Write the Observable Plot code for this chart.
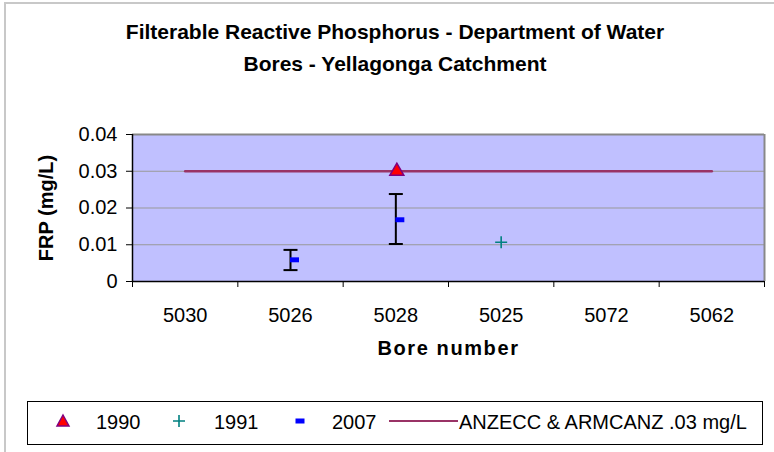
<!DOCTYPE html>
<html>
<head>
<meta charset="utf-8">
<script src="https://cdn.jsdelivr.net/npm/d3@7"></script>
<script src="https://cdn.jsdelivr.net/npm/@observablehq/plot@0.6"></script>
<style>
  body { margin: 0; background: #fff; }
  #root { position: relative; width: 774px; height: 452px; overflow: hidden; background: #fff;
          font-family: "Liberation Sans", Arial, sans-serif; color: #000; }
  #frame { position: absolute; left: 4px; top: 2px; width: 820px; height: 520px; border: 2px solid #c8c8c8; box-sizing: border-box; }
  #title { position: absolute; left: 4px; top: 16px; width: 782px; text-align: center; font-weight: bold; font-size: 21px; line-height: 32px; }
  #chart { position: absolute; left: 0; top: 0; }
  #legend { position: absolute; left: 27px; top: 401px; width: 736px; height: 44px; border: 1px solid #000; box-sizing: border-box; background: #fff; }
  #legend span { position: absolute; top: 10px; font-size: 20px; line-height: 20px; white-space: nowrap; }
  #legend svg { position: absolute; }
</style>
</head>
<body>
<div id="root">
  <div id="frame"></div>
  <div id="title">Filterable Reactive Phosphorus - Department of Water<br>Bores - Yellagonga Catchment</div>
  <div id="chart"></div>
  <div id="legend"></div>
</div>
<script>
// ---- data ----
const categories = ["5030", "5026", "5028", "5025", "5072", "5062"];
const yTicks = [0, 0.01, 0.02, 0.03, 0.04];

const bores1990 = ["5028"];
const values1990 = [0.030];

const bores1991 = ["5025"];
const values1991 = [0.0107];

const bores2007 = ["5026", "5028"];
const values2007 = [0.0059, 0.0168];
const errLow2007 = [0.0031, 0.0102];
const errHigh2007 = [0.0086, 0.0238];

const guidelineBores = categories;
const guidelineValue = 0.03;

const seriesNames = ["1990", "1991", "2007", "ANZECC & ARMCANZ .03 mg/L"];

// ---- helpers ----
const idx = b => categories.indexOf(b) + 0.5;
const d1990 = bores1990.map((b, i) => ({x: idx(b), y: values1990[i]}));
const d1991 = bores1991.map((b, i) => ({x: idx(b), y: values1991[i]}));
const d2007 = bores2007.map((b, i) => ({x: idx(b), y: values2007[i], lo: errLow2007[i], hi: errHigh2007[i]}));
const dGuide = guidelineBores.map(b => ({x: idx(b), y: guidelineValue}));
const dCaps = d2007.flatMap(d => [{x: d.x, y: d.lo}, {x: d.x, y: d.hi}]);

const hLine = {draw(ctx, size) { const r = Math.sqrt(size / Math.PI); ctx.moveTo(-r, 0); ctx.lineTo(r, 0); }};
const plus = {draw(ctx, size) { const r = Math.sqrt(size / Math.PI); ctx.moveTo(-r, 0); ctx.lineTo(r, 0); ctx.moveTo(0, -r); ctx.lineTo(0, r); }};
const dashRect = {draw(ctx, size) { const r = Math.sqrt(size / Math.PI); ctx.rect(-r, -r * 0.55, 2 * r, r * 1.1); ctx.closePath(); }};

const xTicks = d3.range(0, categories.length + 1);
const labelTicks = categories.map((c, i) => i + 0.5);

const plot = Plot.plot({
  width: 774,
  height: 390,
  marginLeft: 132,
  marginRight: 10,
  marginTop: 134,
  marginBottom: 109,
  style: {fontFamily: "'Liberation Sans', Arial, sans-serif", fontSize: "20px", color: "#000", background: "transparent", overflow: "visible"},
  x: {type: "linear", domain: [0, categories.length]},
  y: {domain: [0, 0.04]},
  marks: [
    Plot.frame({fill: "#c0c0ff", stroke: null}),
    Plot.gridY({ticks: [0.01, 0.02, 0.03], stroke: "#999", strokeOpacity: 1, strokeWidth: 1}),
    Plot.ruleY([0.04], {stroke: "#888", strokeWidth: 2}),
    Plot.ruleX([categories.length], {stroke: "#888", strokeWidth: 2}),
    Plot.ruleY([0], {stroke: "#000", strokeWidth: 1.5}),
    Plot.ruleX([0], {stroke: "#000", strokeWidth: 1.5}),
    Plot.axisY({ticks: yTicks, tickSize: 6, tickPadding: 9, tickFormat: d => d === 0 ? "0" : d.toFixed(2), label: null, fontSize: 20, stroke: "#000"}),
    Plot.axisX({ticks: xTicks, tickSize: 6, tickFormat: () => "", label: null, stroke: "#000"}),
    Plot.axisX({ticks: labelTicks, tickSize: 0, tickPadding: 26, tickFormat: d => categories[Math.round(d - 0.5)], label: null, fontSize: 20}),
    Plot.text(["FRP (mg/L)"], {frameAnchor: "left", textAnchor: "middle", rotate: -90, dx: -86, text: d => d, fontWeight: "bold", fontSize: 20}),
    Plot.text(["Bore number"], {frameAnchor: "bottom", textAnchor: "middle", dy: 73, text: d => d, fontWeight: "bold", fontSize: 20}),
    Plot.line(dGuide, {x: "x", y: "y", stroke: "#993366", strokeWidth: 2.5}),
    Plot.ruleX(d2007, {x: "x", y1: "lo", y2: "hi", stroke: "#000", strokeWidth: 2}),
    Plot.dot(dCaps, {x: "x", y: "y", symbol: hLine, r: 7, stroke: "#000", strokeWidth: 2, fill: "none"}),
    Plot.dot(d2007, {x: "x", y: "y", dx: 4, symbol: dashRect, r: 4.5, fill: "#0000ff", stroke: null}),
    Plot.dot(d1991, {x: "x", y: "y", symbol: plus, r: 6, stroke: "#008080", strokeWidth: 1.6, fill: "none"}),
    Plot.dot(d1990, {x: "x", y: "y", dx: 1, symbol: "triangle", r: 5.2, fill: "#ff0000", stroke: "#800080", strokeWidth: 1.5})
  ]
});
d3.select(plot).selectAll("text").filter(function() { return this.textContent === "Bore number"; })
  .attr("letter-spacing", "1.6px");
document.getElementById("chart").appendChild(plot);

// ---- legend ----
const legend = document.getElementById("legend");
const ns = "http://www.w3.org/2000/svg";
function addSvg(left, top, w, h, inner) {
  const s = document.createElementNS(ns, "svg");
  s.setAttribute("width", w); s.setAttribute("height", h);
  s.style.left = left + "px"; s.style.top = top + "px";
  s.innerHTML = inner;
  legend.appendChild(s);
}
function addText(left, txt, spacing) {
  const sp = document.createElement("span");
  sp.style.left = left + "px";
  if (spacing) sp.style.letterSpacing = spacing;
  sp.textContent = txt;
  legend.appendChild(sp);
}
// positions relative to legend box (left 27, top 401)
addSvg(26, 10, 18, 18, '<path d="M9,3 L15,14 L3,14 Z" fill="#ff0000" stroke="#800080" stroke-width="1.5"/>');
addText(68, seriesNames[0]);
addSvg(142, 10, 18, 18, '<path d="M3,9 H15 M9,3 V15" stroke="#008080" stroke-width="1.6" fill="none"/>');
addText(186, seriesNames[1]);
addSvg(263, 10, 18, 18, '<rect x="4.5" y="6.5" width="9" height="5" fill="#0000ff"/>');
addText(304, seriesNames[2]);
addSvg(360, 10, 72, 18, '<line x1="1" y1="9" x2="70" y2="9" stroke="#993366" stroke-width="2"/>');
addText(431, seriesNames[3]);
</script>
</body>
</html>
